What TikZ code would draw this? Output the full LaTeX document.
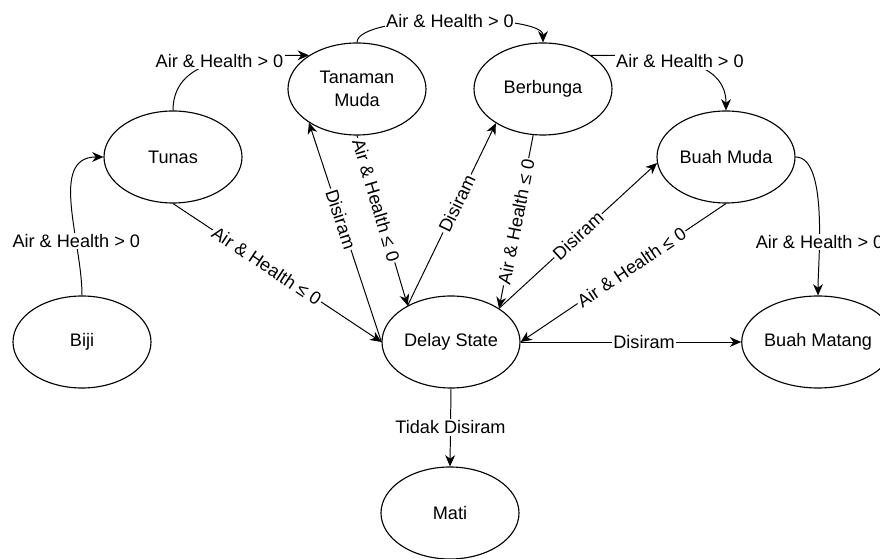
\documentclass[tikz,border=0pt]{standalone}
\usepackage{fontspec}
\setmainfont{Liberation Sans}
\usepackage{tikz}
\usetikzlibrary{shapes.geometric,arrows.meta}

\begin{document}
\begin{tikzpicture}[
  state/.style={ellipse, draw, line width=0.8pt, minimum width=3.45cm, minimum height=2.3cm, inner sep=0pt, align=center, font=\fontsize{12.9}{16.3}\selectfont},
  lbl/.style={fill=white, inner sep=1pt, font=\fontsize{12.9}{15}\selectfont},
  arrow/.style={->, >={Stealth[length=8pt,width=7pt,inset=2.5pt]}, line width=0.7pt}
]
\useasboundingbox (0,0) rectangle (22,13.975);

% States
\node[state] (biji) at (2.05,5.425) {Biji};
\node[state] (tunas) at (4.325,10.05) {Tunas};
\node[state] (tm) at (8.925,11.75) {Tanaman\\Muda};
\node[state] (bb) at (13.575,11.75) {Berbunga};
\node[state] (bm) at (18.15,10.05) {Buah Muda};
\node[state] (delay) at (11.275,5.425) {Delay State};
\node[state] (bmat) at (20.45,5.425) {Buah Matang};
\node[state] (mati) at (11.25,1.15) {Mati};

% Growth
\draw[arrow] (biji.north) to[out=90,in=180] node[lbl,pos=0.3] {Air \& Health > 0} (tunas.west);
\draw[arrow] (tunas.north) to[out=90,in=180] node[lbl] {Air \& Health > 0} (tm.145);
\draw[arrow] (tm.north) to[out=90,in=90,looseness=0.4] node[lbl] {Air \& Health > 0} (bb.north);
\draw[arrow] (bb.35) to[out=0,in=90] node[lbl] {Air \& Health > 0} (bm.north);
\draw[arrow] (bm.east) to[out=0,in=90,looseness=0.6] node[lbl,pos=0.65] {Air \& Health > 0} (bmat.north);

% To delay state
\draw[arrow] (tunas.south) -- node[lbl,sloped,pos=0.45] {Air \& Health ≤ 0} (delay.west);
\draw[arrow] (tm.south) -- node[lbl,sloped,pos=0.38] {Air \& Health ≤ 0} (delay.140);
\draw[arrow] (bb.258) -- node[lbl,sloped,pos=0.5] {Air \& Health ≤ 0} (delay.35);
\draw[arrow] (bm.south) -- node[lbl,sloped,pos=0.46] {Air \& Health ≤ 0} (delay.east);

% From delay state
\draw[arrow] (delay.west) -- node[lbl,sloped,pos=0.56] {Disiram} (tm.215);
\draw[arrow] (delay.140) -- node[lbl,sloped,pos=0.56] {Disiram} (bb.216);
\draw[arrow] (delay.35) -- node[lbl,sloped,pos=0.5] {Disiram} (bm.185);
\draw[arrow] (delay.east) -- node[lbl,pos=0.56] {Disiram} (bmat.west);
\draw[arrow] (delay.south) -- node[lbl] {Tidak Disiram} (mati.north);

\end{tikzpicture}
\end{document}
